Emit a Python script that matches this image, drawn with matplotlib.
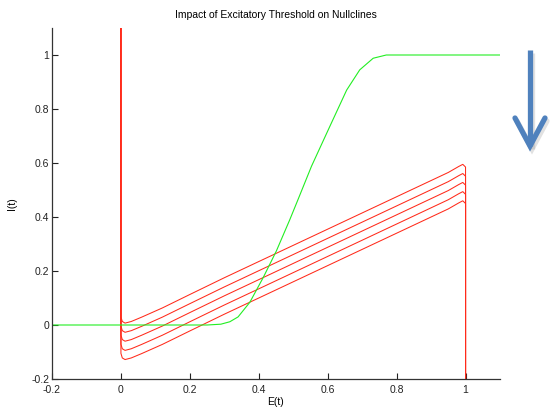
import matplotlib.pyplot as plt
from matplotlib.lines import Line2D

plt.rcParams['font.family'] = ['Liberation Sans', 'DejaVu Sans']
plt.rcParams['axes.unicode_minus'] = False

# E-nullclines (red), one per excitatory threshold, sampled on a shared E grid
e_grid = [0.0, 0.0, 0.004, 0.012, 0.03, 0.06, 0.12, 0.2, 0.3, 0.4, 0.5,
          0.6, 0.7, 0.8, 0.9, 0.95, 0.98, 0.992, 1.0, 1.0]
i_null_1 = [1.2, -0.105, -0.122, -0.128, -0.122, -0.106, -0.072, -0.022, 0.04, 0.1, 0.16,
            0.22, 0.28, 0.34, 0.40, 0.43, 0.452, 0.46, 0.45, -0.3]
i_null_2 = [1.2, -0.071, -0.088, -0.094, -0.088, -0.072, -0.038, 0.012, 0.074, 0.134, 0.194,
            0.254, 0.314, 0.374, 0.434, 0.464, 0.486, 0.494, 0.484, -0.3]
i_null_3 = [1.2, -0.037, -0.054, -0.060, -0.054, -0.038, -0.004, 0.046, 0.108, 0.168, 0.228,
            0.288, 0.348, 0.408, 0.468, 0.498, 0.520, 0.528, 0.518, -0.3]
i_null_4 = [1.2, -0.004, -0.021, -0.027, -0.021, -0.005, 0.029, 0.079, 0.141, 0.201, 0.261,
            0.321, 0.381, 0.441, 0.501, 0.531, 0.553, 0.561, 0.551, -0.3]
i_null_5 = [1.2, 0.030, 0.013, 0.007, 0.013, 0.029, 0.063, 0.113, 0.175, 0.235, 0.295,
            0.355, 0.415, 0.475, 0.535, 0.565, 0.587, 0.595, 0.585, -0.3]
e_nullclines = [i_null_1, i_null_2, i_null_3, i_null_4, i_null_5]

# I-nullcline (green)
e_green = [-0.2, 0.25, 0.29, 0.316, 0.34, 0.374, 0.413, 0.451, 0.49, 0.514, 0.553,
           0.606, 0.655, 0.693, 0.732, 0.77, 0.8, 1.1]
i_green = [0.0, 0.0, 0.003, 0.012, 0.03, 0.084, 0.176, 0.274, 0.39, 0.465, 0.588,
           0.735, 0.87, 0.945, 0.988, 1.0, 1.0, 1.0]

xticks = [-0.2, 0, 0.2, 0.4, 0.6, 0.8, 1]
xtick_labels = ['-0.2', '0', '0.2', '0.4', '0.6', '0.8', '1']
yticks = [-0.2, 0, 0.2, 0.4, 0.6, 0.8, 1]
ytick_labels = ['-0.2', '0', '0.2', '0.4', '0.6', '0.8', '1']

fig = plt.figure(figsize=(5.5, 4.12), dpi=100)
ax = fig.add_axes([52 / 550, 1 - 379 / 412, 448 / 550, 351 / 412])

for i_vals in e_nullclines:
    ax.plot(e_grid, i_vals, color='#ff2a1a', lw=0.75)
ax.plot(e_green, i_green, color='#22ee22', lw=0.8)

ax.set_xlim(-0.2, 1.1)
ax.set_ylim(-0.2, 1.1)
ax.set_xticks(xticks)
ax.set_xticklabels(xtick_labels)
ax.set_yticks(yticks)
ax.set_yticklabels(ytick_labels)
ax.tick_params(direction='in', length=4, width=0.8, labelsize=7.5, pad=2, colors='#222222')
ax.tick_params(axis='x', pad=4)
for side in ['top', 'right']:
    ax.spines[side].set_visible(False)
for side in ['left', 'bottom']:
    ax.spines[side].set_color('#333333')
    ax.spines[side].set_linewidth(0.9)

ax.set_title('Impact of Excitatory Threshold on Nullclines', fontsize=7.5, pad=7)
ax.set_xlabel('E(t)', fontsize=7.5, labelpad=2)
ax.set_ylabel('I(t)', fontsize=7.5, labelpad=10)

# downward arrow beside the plot
def fx(px):
    return px / 550

def fy(py):
    return 1 - py / 412

arrow_color = '#4f81bd'
for dx, dy, col, alpha in [(2, 3, '#888888', 0.25), (0, 0, arrow_color, 1.0)]:
    shaft = Line2D([fx(530 + dx), fx(530 + dx)], [fy(50 + dy), fy(146 + dy)],
                   transform=fig.transFigure, color=col, alpha=alpha, lw=3.8,
                   solid_capstyle='butt')
    head = Line2D([fx(515 + dx), fx(530 + dx), fx(545 + dx)],
                  [fy(118 + dy), fy(146 + dy), fy(118 + dy)],
                  transform=fig.transFigure, color=col, alpha=alpha, lw=3.8,
                  solid_capstyle='round', solid_joinstyle='miter')
    fig.add_artist(shaft)
    fig.add_artist(head)

fig.savefig('out.png', dpi=100)
